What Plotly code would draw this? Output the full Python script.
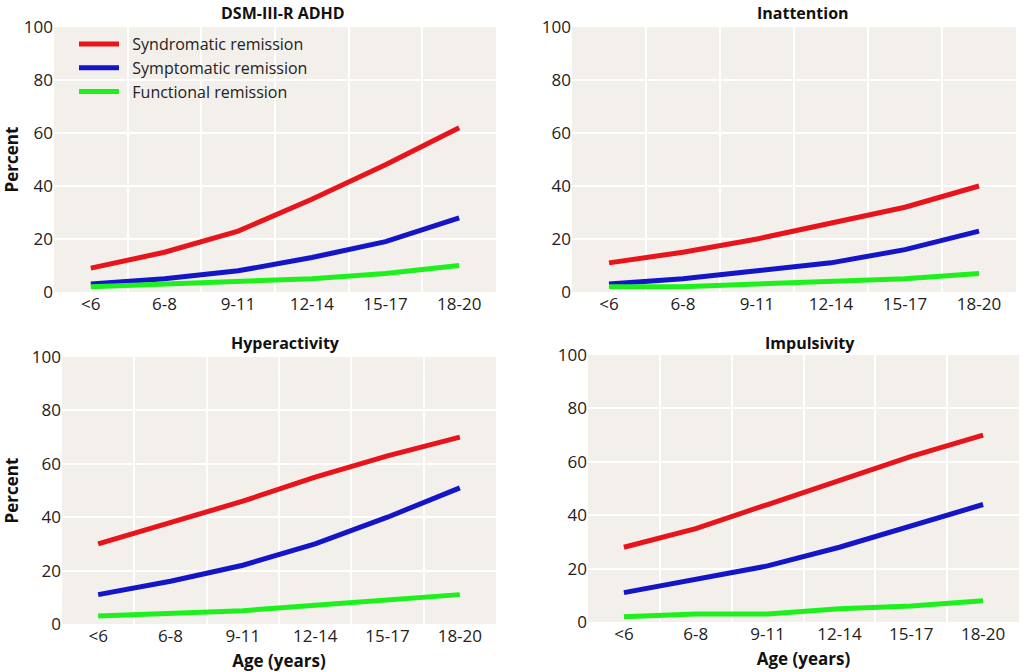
import plotly.graph_objects as go

ages = ["<6", "6-8", "9-11", "12-14", "15-17", "18-20"]
series_names = ["Syndromatic remission", "Symptomatic remission", "Functional remission"]
series_colors = ["#e8141b", "#1414c8", "#1ef01e"]

panel_titles = ["DSM-III-R ADHD", "Inattention", "Hyperactivity", "Impulsivity"]

adhd_syndromatic = [9, 15, 23, 35, 48, 62]
adhd_symptomatic = [3, 5, 8, 13, 19, 28]
adhd_functional = [2, 3, 4, 5, 7, 10]

inatt_syndromatic = [11, 15, 20, 26, 32, 40]
inatt_symptomatic = [3, 5, 8, 11, 16, 23]
inatt_functional = [2, 2, 3, 4, 5, 7]

hyper_syndromatic = [30, 38, 46, 55, 63, 70]
hyper_symptomatic = [11, 16, 22, 30, 40, 51]
hyper_functional = [3, 4, 5, 7, 9, 11]

impul_syndromatic = [28, 35, 44, 53, 62, 70]
impul_symptomatic = [11, 16, 21, 28, 36, 44]
impul_functional = [2, 3, 3, 5, 6, 8]

panels = [
    [adhd_syndromatic, adhd_symptomatic, adhd_functional],
    [inatt_syndromatic, inatt_symptomatic, inatt_functional],
    [hyper_syndromatic, hyper_symptomatic, hyper_functional],
    [impul_syndromatic, impul_symptomatic, impul_functional],
]

W, H = 1024, 672
# pixel boxes in screen coords: left, right, top, bottom
boxes = [
    (54, 496, 27, 292),
    (572, 1016, 27, 292),
    (62, 496, 357, 624),
    (588, 1019, 355, 622),
]
# title centres (x, y) in screen pixels
title_pos = [(283, 13), (803, 13), (285, 343), (810, 343)]

FONT = "Open Sans"
fig = go.Figure()
layout = {}
annotations = []

for i, (vals, box) in enumerate(zip(panels, boxes)):
    n = i + 1
    xa = "x" if n == 1 else f"x{n}"
    ya = "y" if n == 1 else f"y{n}"
    for j, (name, color) in enumerate(zip(series_names, series_colors)):
        fig.add_trace(go.Scatter(
            x=ages, y=vals[j], mode="lines", name="\u00a0\u00a0" + name,
            line=dict(color=color, width=5),
            xaxis=xa, yaxis=ya, showlegend=(i == 0),
        ))
    l, r, t, b = box
    xkey = "xaxis" if n == 1 else f"xaxis{n}"
    ykey = "yaxis" if n == 1 else f"yaxis{n}"
    layout[xkey] = dict(
        domain=[l / W, r / W], anchor=ya, type="category",
        categoryorder="array", categoryarray=ages,
        range=[-0.5, 5.5], tickson="boundaries", ticks="",
        showgrid=True, gridcolor="white", gridwidth=1.5,
        showline=False, zeroline=False, automargin=False,
        tickfont=dict(family=FONT, size=17, color="#222"),
    )
    layout[ykey] = dict(
        domain=[1 - b / H, 1 - t / H], anchor=xa,
        range=[0, 100], tickvals=[0, 20, 40, 60, 80, 100], ticks="",
        showgrid=True, gridcolor="white", gridwidth=1.5,
        showline=False, zeroline=False, automargin=False,
        tickfont=dict(family=FONT, size=17, color="#222"),
    )
    if n in (1, 3):
        layout[ykey]["title"] = dict(text="<b>Percent</b>", standoff=8,
                                     font=dict(family=FONT, size=17, color="#111"))
    if n in (3, 4):
        layout[xkey]["title"] = dict(text="<b>Age (years)</b>", standoff=9,
                                     font=dict(family=FONT, size=17, color="#111"))
    tx, ty = title_pos[i]
    annotations.append(dict(
        text=f"<b>{panel_titles[i]}</b>", xref="paper", yref="paper",
        x=tx / W, y=1 - ty / H, xanchor="center", yanchor="middle",
        showarrow=False, font=dict(family=FONT, size=16, color="#111"),
    ))

fig.update_layout(
    width=W, height=H,
    margin=dict(l=0, r=0, t=0, b=0, autoexpand=False),
    paper_bgcolor="white",
    plot_bgcolor="#f3efea",
    showlegend=True,
    legend=dict(x=74 / W, y=1 - 27 / H, xanchor="left", yanchor="top",
                bgcolor="rgba(0,0,0,0)", font=dict(family=FONT, size=16, color="#222"),
                tracegroupgap=0, itemwidth=40),
    annotations=annotations,
    **layout,
)

fig.write_html("out.html", config={"displayModeBar": False},
               post_script="document.body.style.margin='0px';")
